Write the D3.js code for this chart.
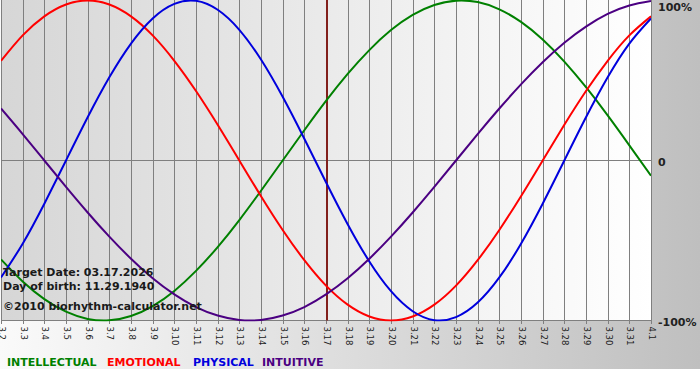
<!DOCTYPE html>
<html>
<head>
<meta charset="utf-8">
<script src="https://cdn.jsdelivr.net/npm/d3@7/dist/d3.min.js"></script>
<style>
body { margin: 0; background: #fff; }
svg { display: block; }
</style>
</head>
<body>
<div id="chart"></div>
<script>
// one label per day shown on the x axis
var days = ['3.2', '3.3', '3.4', '3.5', '3.6', '3.7', '3.8', '3.9', '3.10', '3.11',
	'3.12', '3.13', '3.14', '3.15', '3.16', '3.17', '3.18', '3.19', '3.20', '3.21',
	'3.22', '3.23', '3.24', '3.25', '3.26', '3.27', '3.28', '3.29', '3.30', '3.31', '4.1'];

// percent values, one per day
var intellectual = [-61.8, -75.6, -86.6, -94.5, -99.0, -99.9, -97.2, -91.0, -81.5, -69.0, -54.1,
	-37.2, -18.9, 0, 18.9, 37.2, 54.1, 69.0, 81.5, 91.0, 97.2, 99.9, 99.0, 94.5, 86.6, 75.6,
	61.8, 45.8, 28.2, 9.5, -9.5];
var emotional = [62.3, 78.2, 90.1, 97.5, 100, 97.5, 90.1, 78.2, 62.3, 43.4, 22.3, 0, -22.3,
	-43.4, -62.3, -78.2, -90.1, -97.5, -100, -97.5, -90.1, -78.2, -62.3, -43.4, -22.3, 0, 22.3,
	43.4, 62.3, 78.2, 90.1];
var physical = [-73.1, -52.0, -27.0, 0, 27.0, 52.0, 73.1, 88.8, 97.9, 99.8, 94.2, 81.7, 63.1,
	39.8, 13.6, -13.6, -39.8, -63.1, -81.7, -94.2, -99.8, -97.9, -88.8, -73.1, -52.0, -27.0, 0,
	27.0, 52.0, 73.1, 88.8];
var intuitive = [32.5, 16.5, 0, -16.5, -32.5, -47.6, -61.4, -73.6, -83.7, -91.6, -96.9, -99.7,
	-99.7, -96.9, -91.6, -83.7, -73.6, -61.4, -47.6, -32.5, -16.5, 0, 16.5, 32.5, 47.6, 61.4,
	73.6, 83.7, 91.6, 96.9, 99.7];

var yTicks = [100, 0, -100];
var yTickLabels = ['100%', '0', '-100%'];
var targetDay = '3.17';
var notes = ['Target Date: 03.17.2026', 'Day of birth: 11.29.1940', '\u00a92010 biorhythm-calculator.net'];

var series = [
	{name: 'INTELLECTUAL', color: '#008000', values: intellectual},
	{name: 'EMOTIONAL', color: '#ff0000', values: emotional},
	{name: 'PHYSICAL', color: '#0000dd', values: physical},
	{name: 'INTUITIVE', color: '#4b0082', values: intuitive}
];

var width = 700,
	height = 380,
	chartH = 369,
	plot = {left: 1, right: 651, top: 0.5, bottom: 320.5};

var svg = d3.select('#chart').append('svg')
	.attr('width', width)
	.attr('height', height);

var defs = svg.append('defs');

var bg = defs.append('linearGradient').attr('id', 'bgGrad');
bg.append('stop').attr('offset', '0%').attr('stop-color', '#fafafa');
bg.append('stop').attr('offset', '100%').attr('stop-color', '#bfbfbf');

var pg = defs.append('linearGradient').attr('id', 'plotGrad');
pg.append('stop').attr('offset', '0%').attr('stop-color', '#d6d6d6');
pg.append('stop').attr('offset', '100%').attr('stop-color', '#ffffff');

defs.append('clipPath').attr('id', 'plotClip')
	.append('rect')
	.attr('x', plot.left).attr('y', 0)
	.attr('width', plot.right - plot.left).attr('height', plot.bottom + 1);

svg.append('rect')
	.attr('width', width)
	.attr('height', chartH)
	.style('fill', 'url(#bgGrad)');

svg.append('rect')
	.attr('x', plot.left).attr('y', 0)
	.attr('width', plot.right - plot.left).attr('height', plot.bottom)
	.style('fill', 'url(#plotGrad)');

var x = d3.scaleLinear().domain([0, days.length - 1]).range([plot.left, plot.right]);
var y = d3.scaleLinear().domain([-100, 100]).range([plot.bottom, plot.top]);

function px(i) { return Math.round(x(i)) + 0.5; }

// vertical day lines, they stick out a little under the bottom line
svg.append('g').selectAll('line')
	.data(days)
	.enter()
	.append('line')
		.attr('x1', function(d, i) { return px(i); })
		.attr('x2', function(d, i) { return px(i); })
		.attr('y1', 0)
		.attr('y2', plot.bottom + 3.5)
		.style('stroke', '#7f7f7f')
		.style('stroke-width', 1);

svg.append('g').selectAll('line')
	.data(yTicks.filter(function(d) { return d < 100; }))
	.enter()
	.append('line')
		.attr('x1', plot.left)
		.attr('x2', plot.right + 1)
		.attr('y1', function(d) { return y(d); })
		.attr('y2', function(d) { return y(d); })
		.style('stroke', '#7f7f7f')
		.style('stroke-width', 1);

// marker for the target date
var ti = days.indexOf(targetDay);
svg.append('line')
	.attr('x1', Math.round(x(ti)) + 1)
	.attr('x2', Math.round(x(ti)) + 1)
	.attr('y1', 0)
	.attr('y2', plot.bottom)
	.style('stroke', '#82201c')
	.style('stroke-width', 2);

var line = d3.line()
	.x(function(d, i) { return x(i); })
	.y(function(d) { return y(d); })
	.curve(d3.curveNatural);

svg.append('g')
	.attr('clip-path', 'url(#plotClip)')
	.selectAll('path')
	.data(series)
	.enter()
	.append('path')
		.attr('d', function(d) { return line(d.values); })
		.style('fill', 'none')
		.style('stroke', function(d) { return d.color; })
		.style('stroke-width', 2);

// day labels, turned to read downwards
svg.append('g').selectAll('text')
	.data(days)
	.enter()
	.append('text')
		.attr('transform', function(d, i) { return 'translate(' + (px(i) + 0.5) + ',' + (plot.bottom + 6) + ') rotate(90)'; })
		.attr('dy', '0.35em')
		.style('font-family', 'DejaVu Sans, Verdana, sans-serif')
		.style('font-size', '8.5px')
		.style('fill', '#1a1a1a')
		.text(function(d) { return d; });

svg.append('g').selectAll('text')
	.data(yTicks)
	.enter()
	.append('text')
		.attr('x', 658)
		.attr('y', function(d) { return Math.max(y(d) + 5, 11); })
		.style('font-family', 'DejaVu Sans, Verdana, sans-serif')
		.style('font-size', '11px')
		.style('font-weight', 'bold')
		.style('fill', '#222')
		.text(function(d, i) { return yTickLabels[i]; });

svg.append('g').selectAll('text')
	.data(notes)
	.enter()
	.append('text')
		.attr('x', 3)
		.attr('y', function(d, i) { return [276, 290, 310][i]; })
		.style('font-family', 'DejaVu Sans, Verdana, sans-serif')
		.style('font-size', '11px')
		.style('font-weight', 'bold')
		.style('fill', '#1a1a1a')
		.text(function(d) { return d; });

var legendX = [7, 107, 193, 262];
svg.append('g').selectAll('text')
	.data(series)
	.enter()
	.append('text')
		.attr('x', function(d, i) { return legendX[i]; })
		.attr('y', 366)
		.style('font-family', 'DejaVu Sans, Verdana, sans-serif')
		.style('font-size', '11px')
		.style('font-weight', 'bold')
		.style('fill', function(d) { return d.color; })
		.text(function(d) { return d.name; });
</script>
</body>
</html>
